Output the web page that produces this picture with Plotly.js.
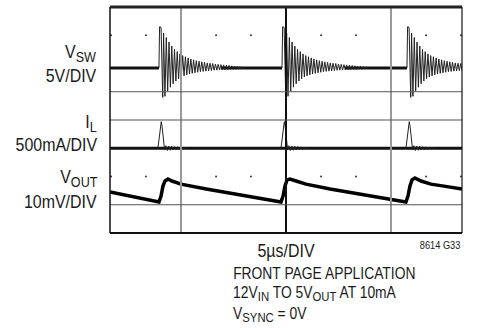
<!DOCTYPE html>
<html>
<head>
<meta charset="utf-8">
<script src="https://cdn.plot.ly/plotly-3.0.1.min.js"></script>
<style>
  html, body { margin: 0; padding: 0; background: #fff; }
  #chart { width: 477px; height: 330px; }
</style>
</head>
<body>
<div id="chart"></div>
<script>
// ---- data (time in µs) ----
const eventTimes = [3.95, 9.81, 15.76];          // switching events

// VSW (volts): edge at each event, then decaying ringing
const vswEdgeT = [0, 0.03, 0.1, 0.18];           // relative µs
const vswEdgeV = [5, 12.3, 12.2, -0.2];
const vswRingStart = 0.22;                        // relative µs
const vswRingPeriod = 0.13;                       // µs
const vswRingHigh = [11.2, 10.4, 9.6, 8.9, 8.3, 7.9, 7.5, 7.2, 7.0, 6.8,
                     6.6, 6.45, 6.3, 6.2, 6.1, 6.0, 5.9, 5.85, 5.8, 5.7,
                     5.65, 5.6, 5.55, 5.5, 5.45, 5.4, 5.35, 5.3, 5.25, 5.2];
const vswRingLow  = [0.0, 0.9, 1.6, 2.2, 2.7, 3.1, 3.4, 3.6, 3.8, 3.95,
                     4.05, 4.15, 4.25, 4.35, 4.4, 4.45, 4.5, 4.55, 4.6, 4.62,
                     4.65, 4.68, 4.7, 4.72, 4.74, 4.76, 4.78, 4.8, 4.82, 4.85];
const vswIdleT = [[1.62, 3.95], [6.9, 9.81], [12.8, 15.76]];
const vswIdleV = 5;

// IL (mA)
const ilSpikeT = [-0.1, -0.02, 0.06, 0.1, 0.16, 0.22];
const ilSpikeV = [0, 200, 470, 380, 120, -30];
const ilRingStart = 0.28, ilRingStep = 0.07;
const ilRingV = [45, -40, 40, -35, 35, -30, 30, -25, 25, -20, 20, -15, 12, -10];
const ilBaseT = [1.62, 18.38];
const ilBaseV = [0, 0];

// VOUT (mV, AC coupled)
const voutT = [1.62, 2.5, 3.4, 3.95, 4.05, 4.14, 4.24, 4.38, 4.57, 5.0, 6.2, 7.4, 8.6, 9.76,
               9.86, 9.95, 10.05, 10.19, 10.48, 10.95, 12.1, 13.3, 14.5, 15.71,
               15.81, 15.9, 16.0, 16.14, 16.43, 16.9, 17.6, 18.38];
const voutV = [4.5, 3.1, 1.8, 1.0, 3.1, 6.6, 8.4, 9.1, 8.4, 7.3, 5.6, 4.0, 2.4, 1.0,
               3.1, 6.6, 8.8, 9.1, 8.4, 7.3, 5.6, 4.0, 2.4, 1.0,
               3.1, 6.6, 8.8, 9.5, 8.4, 7.3, 6.5, 5.6];

// channel scales (units per division) and ground positions (divisions)
const vswPerDiv = 5, vswZero = 4.84;
const ilPerDiv = 500, ilZero = 3.0;
const voutPerDiv = 10, voutZero = 1.0;

// graticule dots
const gratDotT = [1.67, 3.33, 6.67, 8.33, 11.67, 13.33, 16.67, 18.33];
const gratDotDiv = [2, 7];

// ---- build traces ----
function vswDiv(v) { return vswZero + v / vswPerDiv; }
function ilDiv(v) { return ilZero + v / ilPerDiv; }

const vswThinX = [], vswThinY = [];
eventTimes.forEach(t0 => {
  vswEdgeT.forEach((dt, i) => { vswThinX.push(t0 + dt); vswThinY.push(vswDiv(vswEdgeV[i])); });
  vswRingHigh.forEach((h, i) => {
    const tb = t0 + vswRingStart + i * vswRingPeriod;
    vswThinX.push(tb); vswThinY.push(vswDiv(h));
    vswThinX.push(tb + vswRingPeriod / 2); vswThinY.push(vswDiv(vswRingLow[i]));
  });
  vswThinX.push(null); vswThinY.push(null);
});
const vswThickX = [], vswThickY = [];
vswIdleT.forEach(seg => {
  vswThickX.push(seg[0], seg[1], null);
  vswThickY.push(vswDiv(vswIdleV), vswDiv(vswIdleV), null);
});

const ilThinX = [], ilThinY = [];
eventTimes.forEach(t0 => {
  ilSpikeT.forEach((dt, i) => { ilThinX.push(t0 + 0.05 + dt); ilThinY.push(ilDiv(ilSpikeV[i])); });
  ilRingV.forEach((v, i) => { ilThinX.push(t0 + 0.05 + ilRingStart + i * ilRingStep); ilThinY.push(ilDiv(v)); });
  ilThinX.push(null); ilThinY.push(null);
});

const traces = [
  { x: vswThickX, y: vswThickY, mode: 'lines', line: { color: '#111', width: 3 }, hoverinfo: 'skip' },
  { x: vswThinX, y: vswThinY, mode: 'lines', line: { color: '#222', width: 1 }, hoverinfo: 'skip' },
  { x: ilBaseT, y: ilBaseV.map(ilDiv), mode: 'lines', line: { color: '#111', width: 3 }, hoverinfo: 'skip' },
  { x: ilThinX, y: ilThinY, mode: 'lines', line: { color: '#222', width: 1 }, hoverinfo: 'skip' },
  { x: voutT, y: voutV.map(v => voutZero + v / voutPerDiv), mode: 'lines',
    line: { color: '#000', width: 3.5 }, hoverinfo: 'skip' },
];
gratDotDiv.forEach(d => {
  traces.push({ x: gratDotT, y: gratDotT.map(() => d), mode: 'markers',
    marker: { color: '#333', size: 2 }, hoverinfo: 'skip' });
});

const FONT = '"Liberation Sans", Arial, sans-serif';
const shapes = [
  // vertical graticule lines
  { type: 'line', xref: 'x', yref: 'paper', x0: 5, x1: 5, y0: 0, y1: 1, line: { color: '#999', width: 2 } },
  { type: 'line', xref: 'x', yref: 'paper', x0: 10, x1: 10, y0: 0, y1: 1, line: { color: '#111', width: 2 } },
  { type: 'line', xref: 'x', yref: 'paper', x0: 15, x1: 15, y0: 0, y1: 1, line: { color: '#999', width: 2 } },
  // horizontal graticule lines
  { type: 'line', xref: 'paper', yref: 'y', x0: 0, x1: 1, y0: 1, y1: 1, line: { color: '#555', width: 1 } },
  { type: 'line', xref: 'paper', yref: 'y', x0: 0, x1: 1, y0: 4, y1: 4, line: { color: '#555', width: 1 } },
  { type: 'line', xref: 'paper', yref: 'y', x0: 0, x1: 1, y0: 5, y1: 5, line: { color: '#555', width: 1 } },
  // border
  { type: 'line', xref: 'paper', yref: 'paper', x0: 0, x1: 1, y0: 1, y1: 1, line: { color: '#222', width: 3 } },
  { type: 'line', xref: 'paper', yref: 'paper', x0: 0, x1: 1, y0: 0, y1: 0, line: { color: '#111', width: 2 } },
  { type: 'line', xref: 'paper', yref: 'paper', x0: 0, x1: 0, y0: 0, y1: 1, line: { color: '#111', width: 1.5 } },
  { type: 'line', xref: 'paper', yref: 'paper', x0: 1, x1: 1, y0: 0, y1: 1, line: { color: '#111', width: 1.2 } },
];

const pxX = px => (px - 110) / 352;       // left/right position relative to plot box
const pxY = py => (233 - py) / 226;       // vertical position relative to plot box
const lab = (text, x, y, xanchor, size, xref, yref) => ({
  text, x, y, xref: xref || 'paper', yref: yref || 'y', xanchor, yanchor: 'middle',
  showarrow: false, font: { family: FONT, size, color: '#1a1a1a' }
});
const sub = (s, px) => '<sub><span style="font-size:' + px + 'px">' + s + '</span></sub>';
// narrow-type look (the original uses a condensed face)
const narrow = 0.84;

const annotations = [
  lab('V' + sub('SW', 15), pxX(99), 6.38, 'right', 19),
  lab('5V/DIV', pxX(99), 5.56, 'right', 19),
  lab('I' + sub('L', 15), pxX(99), 3.91, 'right', 19),
  lab('500mA/DIV', pxX(99), 3.12, 'right', 19),
  lab('V' + sub('OUT', 15), pxX(99), 1.96, 'right', 19),
  lab('10mV/DIV', pxX(99), 1.13, 'right', 19),
  lab('5µs/DIV', 10, pxY(250), 'center', 19, 'x', 'paper'),
  lab('8614 G33', 1, pxY(245), 'right', 11, 'paper', 'paper'),
  lab('FRONT PAGE APPLICATION', pxX(231), pxY(273), 'left', 16.5, 'paper', 'paper'),
  lab('12V' + sub('IN', 13.5) + ' TO 5V' + sub('OUT', 13.5) + ' AT 10mA', pxX(231), pxY(293), 'left', 16.5, 'paper', 'paper'),
  lab('V' + sub('SYNC', 13.5) + ' = 0V', pxX(231), pxY(314), 'left', 16.5, 'paper', 'paper'),
];

const layout = {
  width: 477, height: 330,
  margin: { l: 110, r: 15, t: 7, b: 97 },
  paper_bgcolor: '#fff', plot_bgcolor: '#fff',
  showlegend: false,
  xaxis: { range: [1.619, 18.381], showgrid: false, zeroline: false, showticklabels: false,
           ticks: '', showline: false, fixedrange: true },
  yaxis: { range: [0, 8], showgrid: false, zeroline: false, showticklabels: false,
           ticks: '', showline: false, fixedrange: true },
  shapes, annotations,
  font: { family: FONT }
};

Plotly.newPlot('chart', traces, layout, { staticPlot: true, displayModeBar: false }).then(gd => {
  gd.querySelectorAll('g.annotation').forEach(g => {
    const idx = +g.getAttribute('data-index');
    const a = annotations[idx];
    const t = g.querySelector('text.annotation-text');
    if (!a || !t) return;
    const origin = a.xanchor === 'right' ? 'right' : (a.xanchor === 'left' ? 'left' : 'center');
    t.style.transformBox = 'fill-box';
    t.style.transformOrigin = origin + ' center';
    t.style.transform = 'scaleX(' + narrow + ')';
  });
});
</script>
</body>
</html>
